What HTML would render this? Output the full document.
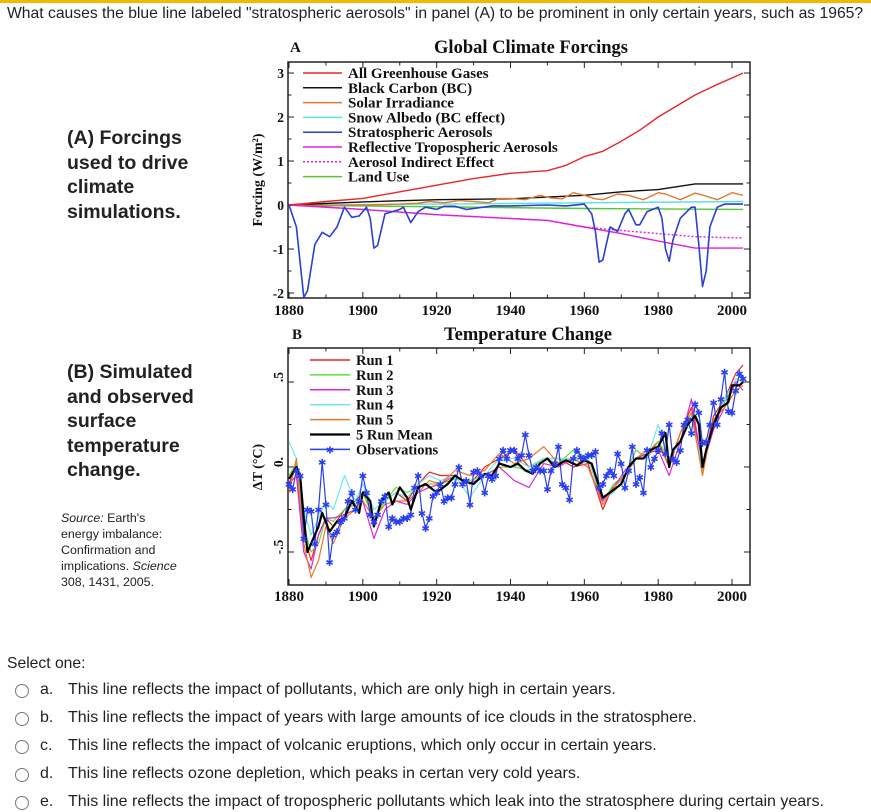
<!DOCTYPE html>
<html><head><meta charset="utf-8">
<style>
html,body{margin:0;padding:0;background:#fff;width:871px;height:811px;overflow:hidden;font-family:"Liberation Sans",sans-serif;}
.bar{position:absolute;left:0;top:0;width:871px;height:3px;background:#f5b800;}
.q{position:absolute;left:7px;top:5px;font-size:15.7px;color:#1d2125;white-space:nowrap;}
.lbl{position:absolute;left:67px;font-weight:bold;font-size:19.5px;line-height:24.5px;color:#222;}
.src{position:absolute;left:61px;top:510px;font-size:12.4px;line-height:16px;color:#222;}
.sel{position:absolute;left:7px;top:655px;font-size:15.7px;color:#1d2125;}
.opt{position:absolute;left:15px;font-size:16px;color:#1d2125;white-space:nowrap;height:20px;line-height:20px;}
.opt .r{position:absolute;left:0;top:4px;width:12px;height:12px;border:1.5px solid #777;border-radius:50%;}
.opt .l{position:absolute;left:25px;}
.opt .t{position:absolute;left:53px;}
svg{position:absolute;left:0;top:0;}
svg text{font-family:"Liberation Serif",serif;font-weight:bold;fill:#111;}
</style></head><body>
<div class="bar"></div>
<div class="q">What causes the blue line labeled "stratospheric aerosols" in panel (A) to be prominent in only certain years, such as 1965?</div>
<div class="lbl" style="top:126px">(A) Forcings<br>used to drive<br>climate<br>simulations.</div>
<div class="lbl" style="top:360px">(B) Simulated<br>and observed<br>surface<br>temperature<br>change.</div>
<div class="src"><i>Source:</i> Earth's<br>energy imbalance:<br>Confirmation and<br>implications. <i>Science</i><br>308, 1431, 2005.</div>

<svg id="chart" width="871" height="811"></svg>

<div class="sel">Select one:</div>
<div class="opt" style="top:680px"><span class="r"></span><span class="l">a.</span><span class="t">This line reflects the impact of pollutants, which are only high in certain years.</span></div>
<div class="opt" style="top:708px"><span class="r"></span><span class="l">b.</span><span class="t">This line reflects the impact of years with large amounts of ice clouds in the stratosphere.</span></div>
<div class="opt" style="top:736px"><span class="r"></span><span class="l">c.</span><span class="t">This line reflects the impact of volcanic eruptions, which only occur in certain years.</span></div>
<div class="opt" style="top:764px"><span class="r"></span><span class="l">d.</span><span class="t">This line reflects ozone depletion, which peaks in certan very cold years.</span></div>
<div class="opt" style="top:792px"><span class="r"></span><span class="l">e.</span><span class="t">This line reflects the impact of tropospheric pollutants which leak into the stratosphere during certain years.</span></div>

<script>
// ---- Panel A data ([year, W/m2]) ----
const ghg = [[1880,0],[1890,0.08],[1900,0.15],[1910,0.3],[1920,0.45],[1930,0.6],[1940,0.72],[1950,0.78],[1955,0.9],[1960,1.1],[1965,1.22],[1970,1.45],[1975,1.7],[1980,2.0],[1985,2.25],[1990,2.5],[1995,2.7],[2003,3.0]];
const blackCarbon = [[1880,0],[1900,0.07],[1920,0.12],[1940,0.14],[1950,0.18],[1960,0.22],[1970,0.3],[1980,0.35],[1990,0.48],[2003,0.48]];
const solar = [[1880,0],[1890,-0.02],[1900,0.0],[1910,0.02],[1915,0.04],[1918,0.08],[1922,0.05],[1926,0.1],[1930,0.08],[1934,0.05],[1937,0.15],[1940,0.15],[1944,0.12],[1948,0.22],[1951,0.16],[1954,0.14],[1957,0.28],[1960,0.22],[1963,0.14],[1965,0.12],[1969,0.25],[1972,0.22],[1976,0.12],[1980,0.28],[1982,0.25],[1986,0.12],[1990,0.27],[1993,0.2],[1996,0.12],[2000,0.28],[2003,0.22]];
const snowAlbedo = [[1880,0],[1920,0.02],[1960,0.05],[2003,0.08]];
const stratAer = [[1880,0],[1882,-0.5],[1884,-2.1],[1885,-1.95],[1887,-0.9],[1889,-0.62],[1891,-0.72],[1893,-0.5],[1895,-0.05],[1897,-0.28],[1899,-0.25],[1901,-0.05],[1902,-0.3],[1903,-0.98],[1904,-0.92],[1906,-0.2],[1908,-0.15],[1910,-0.1],[1911,-0.05],[1913,-0.4],[1915,-0.15],[1917,-0.05],[1920,-0.1],[1922,-0.03],[1925,-0.03],[1928,-0.1],[1930,-0.08],[1935,-0.02],[1940,-0.02],[1950,0],[1955,-0.02],[1960,0.02],[1962,-0.2],[1963,-0.6],[1964,-1.3],[1965,-1.25],[1967,-0.5],[1969,-0.6],[1971,-0.2],[1972,-0.1],[1974,-0.45],[1975,-0.45],[1977,-0.15],[1980,-0.05],[1981,-0.3],[1982,-1.0],[1983,-1.28],[1984,-0.8],[1986,-0.3],[1989,-0.05],[1990,-0.05],[1991,-0.9],[1992,-1.85],[1993,-1.5],[1994,-0.5],[1996,-0.05],[1998,0.02],[2003,0.02]];
const reflTrop = [[1880,0],[1900,-0.1],[1920,-0.22],[1950,-0.35],[1960,-0.5],[1970,-0.65],[1980,-0.82],[1990,-0.98],[2003,-0.98]];
const aerIndirect = [[1880,0],[1900,-0.1],[1920,-0.22],[1950,-0.35],[1960,-0.5],[1970,-0.58],[1980,-0.65],[1990,-0.72],[2003,-0.75]];
const landUse = [[1880,0],[1920,-0.04],[1960,-0.08],[2003,-0.1]];
const yTicksA = [3,2,1,0,-1,-2];
const xTicks = [1880,1900,1920,1940,1960,1980,2000];
const legendA = ["All Greenhouse Gases","Black Carbon (BC)","Solar Irradiance","Snow Albedo (BC effect)","Stratospheric Aerosols","Reflective Tropospheric Aerosols","Aerosol Indirect Effect","Land Use"];

// ---- Panel B data ----
const obsYears = [];
for (let y=1880;y<=2003;y++) obsYears.push(y);
const observations = [-0.1,-0.13,-0.02,-0.05,-0.42,-0.25,-0.26,-0.45,-0.25,0.03,-0.22,-0.56,-0.4,-0.38,-0.32,-0.3,-0.2,-0.15,-0.25,-0.2,-0.05,-0.15,-0.28,-0.32,-0.28,-0.2,-0.17,-0.35,-0.3,-0.32,-0.32,-0.3,-0.3,-0.28,-0.12,-0.05,-0.27,-0.36,-0.3,-0.17,-0.15,-0.1,-0.2,-0.18,-0.18,-0.1,0.0,-0.1,-0.08,-0.22,-0.03,-0.02,-0.05,-0.15,-0.05,-0.07,-0.05,0.05,0.1,0.05,0.1,0.1,0.05,0.07,0.19,0.07,-0.02,0.0,-0.02,-0.02,-0.13,-0.02,0.02,0.12,-0.1,-0.12,-0.19,0.05,0.1,0.06,0.05,0.07,0.07,0.09,-0.12,-0.1,-0.05,-0.02,-0.05,0.08,0.02,-0.12,-0.02,0.12,-0.1,-0.06,-0.15,0.1,0.0,0.05,0.1,0.2,0.08,0.25,0.05,0.03,0.1,0.25,0.28,0.2,0.37,0.32,0.14,0.15,0.25,0.38,0.25,0.4,0.56,0.33,0.32,0.45,0.55,0.52];
const meanYears = [1880,1882,1883,1884,1885,1886,1888,1889,1891,1893,1895,1897,1899,1900,1902,1903,1905,1907,1908,1910,1912,1913,1915,1917,1920,1923,1925,1927,1930,1933,1935,1937,1940,1942,1944,1946,1948,1950,1952,1955,1958,1960,1962,1965,1967,1970,1972,1974,1976,1978,1980,1982,1983,1984,1986,1988,1990,1991,1992,1993,1995,1997,1999,2000,2002,2003];
const runMean = [-0.07,0.0,-0.05,-0.3,-0.5,-0.45,-0.35,-0.27,-0.38,-0.32,-0.3,-0.2,-0.27,-0.15,-0.2,-0.35,-0.2,-0.15,-0.22,-0.12,-0.18,-0.25,-0.12,-0.1,-0.15,-0.1,-0.05,-0.08,-0.1,-0.04,-0.05,0.02,0.0,0.02,-0.02,-0.04,0.02,0.05,0.0,0.04,0.01,0.04,0.02,-0.18,-0.15,-0.1,0.0,0.05,0.05,0.1,0.12,0.2,0.0,0.1,0.15,0.25,0.3,0.25,0.0,0.1,0.25,0.35,0.38,0.48,0.48,0.5];
const runYears = [1880,1882,1884,1886,1888,1890,1892,1895,1898,1900,1903,1906,1909,1912,1915,1918,1921,1925,1929,1933,1937,1941,1945,1949,1953,1957,1961,1965,1968,1971,1974,1977,1980,1983,1986,1989,1992,1995,1998,2001,2003];
const run1 = [-0.1,0.0,-0.4,-0.55,-0.4,-0.3,-0.35,-0.25,-0.2,-0.15,-0.3,-0.2,-0.15,-0.2,-0.1,-0.03,-0.05,-0.05,-0.1,0.0,0.05,0.1,0.0,0.05,0.05,0.0,0.02,-0.25,-0.1,-0.05,0.05,0.08,0.15,0.0,0.2,0.35,0.0,0.3,0.4,0.55,0.6];
const run2 = [-0.05,0.02,-0.35,-0.5,-0.45,-0.3,-0.32,-0.25,-0.22,-0.15,-0.3,-0.2,-0.12,-0.15,-0.12,-0.1,-0.1,-0.07,-0.08,-0.05,0.0,0.0,-0.02,0.05,0.02,0.1,0.05,-0.2,-0.1,-0.05,0.1,0.05,0.15,0.05,0.15,0.3,-0.02,0.25,0.38,0.5,0.52];
const run3 = [-0.1,-0.05,-0.5,-0.6,-0.4,-0.3,-0.3,-0.28,-0.25,-0.2,-0.42,-0.25,-0.2,-0.22,-0.15,-0.12,-0.1,-0.05,-0.1,-0.05,0.0,-0.08,-0.12,0.02,0.0,0.05,0.0,-0.2,-0.12,-0.02,0.05,0.08,0.1,-0.05,0.15,0.4,0.0,0.22,0.35,0.5,0.45];
const run4 = [0.15,0.05,-0.25,-0.4,-0.3,-0.2,-0.25,-0.05,-0.2,-0.1,-0.25,-0.2,-0.15,-0.18,-0.1,-0.05,-0.08,-0.05,-0.18,-0.05,0.05,0.05,0.0,0.05,0.05,0.05,0.05,-0.18,-0.15,-0.05,0.05,0.05,0.25,0.05,0.15,0.3,0.0,0.25,0.4,0.52,0.5];
const run5 = [-0.15,0.05,-0.45,-0.65,-0.55,-0.35,-0.45,-0.3,-0.25,-0.2,-0.3,-0.22,-0.2,-0.2,-0.15,-0.08,-0.1,-0.02,-0.05,-0.02,0.08,0.02,0.05,0.12,0.02,0.05,0.0,-0.22,-0.12,-0.05,0.05,0.1,0.12,0.02,0.2,0.32,-0.05,0.28,0.35,0.45,0.48];
const yTicksB = [0.5,0,-0.5];
const yTickLabelsB = [".5","0.","-.5"];
const legendB = ["Run 1","Run 2","Run 3","Run 4","Run 5","5 Run Mean","Observations"];

const svg = document.getElementById('chart');
const NS = 'http://www.w3.org/2000/svg';
function mk(tag, attrs, parent){ const e=document.createElementNS(NS,tag); for(const k in attrs) e.setAttribute(k,attrs[k]); (parent||svg).appendChild(e); return e; }

const xL=288, xR=750;
const xScale = yr => 289 + (yr-1880)*(732-289)/120;
const yA = v => 205 - v*44;
const yB = v => 467 - v*170;

function frame(top,bot,yf,yMin,yMax,yStep,name){
  const g = mk('g',{});
  
  
  mk('rect',{x:xL,y:top,width:xR-xL,height:bot-top,fill:'none',stroke:'#222','stroke-width':1.5},g);
  for(let yr=1880; yr<=2005; yr+=10){
    const x=xScale(yr), L = yr%20===0?6:3.5;
    mk('line',{x1:x,y1:bot,x2:x,y2:bot-L,stroke:'#222'},g);
    mk('line',{x1:x,y1:top,x2:x,y2:top+L,stroke:'#222'},g);
  }
  for(let v=yMin; v<=yMax+1e-9; v+=yStep){
    const y=yf(v); if(y<top-1||y>bot+1) continue;
    const major = Math.abs(v/(yStep*2)-Math.round(v/(yStep*2)))<1e-6;
    const L = major?6:3.5;
    mk('line',{x1:xL,y1:y,x2:xL+L,y2:y,stroke:'#222'},g);
    mk('line',{x1:xR,y1:y,x2:xR-L,y2:y,stroke:'#222'},g);
  }
  return g;
}
function line(data, yf, color, w, dash, name){
  const d = data.map((p,i)=>(i?'L':'M')+xScale(p[0]).toFixed(1)+','+yf(p[1]).toFixed(1)).join(' ');
  const p = mk('path',{d:d,fill:'none',stroke:color,'stroke-width':w,'stroke-linejoin':'round'});
  if(dash) p.setAttribute('stroke-dasharray',dash);
  
  
  return p;
}
function text(x,y,s,size,anchor,name,extra){
  const t = mk('text',Object.assign({x:x,y:y,'font-size':size,'text-anchor':anchor||'start'},extra||{}));
  t.textContent=s;
  
  
  return t;
}

// ----- Panel A -----
text(290,52,'A',15,'start','panel-a-letter');
text(531,53,'Global Climate Forcings',18.5,'middle','panel-a-title');
frame(62,298,yA,-2,3,0.5,'panel-a-frame');
yTicksA.forEach(v=>{ text(284,yA(v)+5,String(v),13.5,'end','y-tick-a'); });
xTicks.forEach(v=>{ text(xScale(v),315,String(v),15,'middle','x-tick-a'); });
text(0,0,'Forcing (W/m²)',14,'middle','y-axis-title-a',{transform:'translate(262,180) rotate(-90)'});

const colorsA = ['#e8262a','#111','#e07a2e','#5ee0e0','#2a3fd8','#e020d8','#e020d8','#55c83a'];
const seriesA = [ghg,blackCarbon,solar,snowAlbedo,stratAer,reflTrop,aerIndirect,landUse];
const namesA = ['ghg-line','black-carbon-line','solar-line','snow-albedo-line','strat-aerosols-line','refl-trop-aerosols-line','aerosol-indirect-line','land-use-line'];
[3,7,1,2,6,5,0,4].forEach(i=>{
  line(seriesA[i], yA, colorsA[i], i===4?1.6:1.4, i===6?'2,2':null, namesA[i]);
});
legendA.forEach((s,i)=>{
  const y=74+i*14.8;
  const l=mk('line',{x1:303,y1:y-1,x2:342,y2:y-1,stroke:colorsA[i],'stroke-width':1.5});
  if(i===6) l.setAttribute('stroke-dasharray','2,2');
  
  
  text(348,y+4,s,15,'start','legend-entry-a');
});

// ----- Panel B -----
text(292,339,'B',15,'start','panel-b-letter');
text(528,340,'Temperature Change',18.5,'middle','panel-b-title');
frame(348,585,yB,-0.75,0.7,0.25,'panel-b-frame');
yTicksB.forEach((v,i)=>{ text(283,yB(v)+5,yTickLabelsB[i],13.5,'middle','y-tick-b',{transform:'rotate(-90 278 '+(yB(v))+')'}); });
xTicks.forEach(v=>{ text(xScale(v),601,String(v),15,'middle','x-tick-b'); });
text(0,0,'ΔT (°C)',14,'middle','y-axis-title-b',{transform:'translate(262,467) rotate(-90)'});

const colorsB = ['#e8262a','#5ee03a','#d828d8','#6ee8e8','#e8782a','#000','#2a3ff0'];
const runs=[run1,run2,run3,run4,run5];
const runNames=['run-1-line','run-2-line','run-3-line','run-4-line','run-5-line'];
runs.forEach((r,i)=>{ line(runYears.map((y,j)=>[y,r[j]]), yB, colorsB[i], 1.2, null, runNames[i]); });
line(obsYears.map((y,j)=>[y,observations[j]]), yB, colorsB[6], 1.2, null, 'observations-line');
line(meanYears.map((y,j)=>[y,runMean[j]]), yB, '#000', 2.2, null, 'run-mean-line');
obsYears.forEach((y,j)=>{
  const t=mk('text',{x:xScale(y),y:yB(observations[j])+4,'font-size':10,'text-anchor':'middle',style:'fill:#2a3ff0;font-family:"DejaVu Sans",sans-serif;font-weight:normal'});
  t.textContent='✱';
  
  
});
legendB.forEach((s,i)=>{
  const y=361+i*14.9;
  const l=mk('line',{x1:310,y1:y-1,x2:350,y2:y-1,stroke:colorsB[i],'stroke-width':i===5?2.2:1.5});
  
  
  if(i===6){
    const st=mk('text',{x:330,y:y+3,'font-size':10,'text-anchor':'middle',style:'fill:#2a3ff0;font-family:"DejaVu Sans",sans-serif;font-weight:normal'});
    st.textContent='✱';
    
    
  }
  text(356,y+4,s,14.5,'start','legend-entry-b');
});
</script>
</body></html>
